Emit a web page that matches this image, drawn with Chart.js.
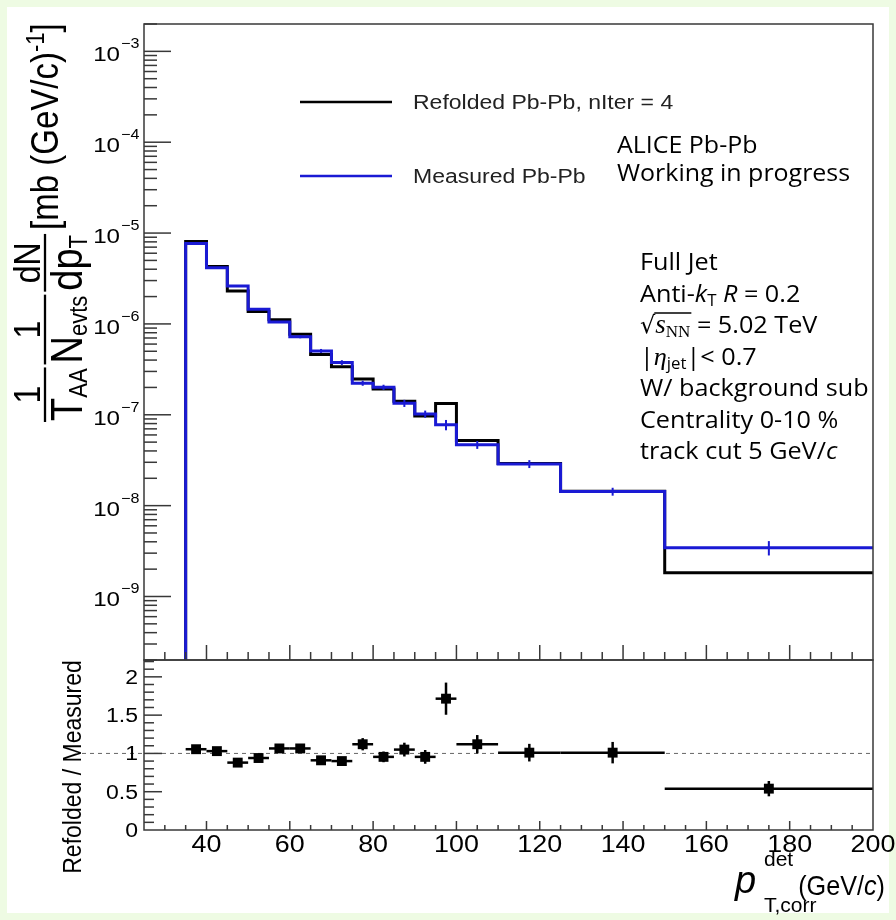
<!DOCTYPE html>
<html>
<head>
<meta charset="utf-8">
<script src="https://cdn.jsdelivr.net/npm/chart.js@4.4.1/dist/chart.umd.min.js"></script>
<style>
html, body { margin: 0; padding: 0; background: #eefbe3; }
#wrap { position: relative; width: 896px; height: 920px; }
#paper { position: absolute; left: 7px; top: 7px; width: 882px; height: 906px; background: #fff; }
canvas { position: absolute; left: 0; top: 0; }
</style>
</head>
<body>
<div id="wrap">
  <div id="paper"></div>
  <canvas id="spec" width="896" height="920"></canvas>
  <canvas id="ratio" width="896" height="920"></canvas>
</div>
<script>
// bins in p_T (GeV/c)
const binEdges = [35, 40, 45, 50, 55, 60, 65, 70, 75, 80, 85, 90, 95, 100, 110, 125, 150, 200];
// measured Pb-Pb spectrum
const measured = [7.7e-6, 4.16e-6, 2.62e-6, 1.45e-6, 1.05e-6, 7.24e-7, 5.05e-7, 3.76e-7, 2.23e-7, 2.01e-7, 1.34e-7, 1.02e-7, 7.76e-8, 4.68e-8, 2.88e-8, 1.43e-8, 3.45e-9];
const measuredRelErr = [0.01, 0.01, 0.015, 0.02, 0.02, 0.04, 0.05, 0.06, 0.065, 0.065, 0.09, 0.09, 0.13, 0.1, 0.1, 0.1, 0.18];
// refolded, nIter = 4
const refolded = [8.1e-6, 4.28e-6, 2.31e-6, 1.37e-6, 1.11e-6, 7.7e-7, 4.6e-7, 3.38e-7, 2.48e-7, 1.92e-7, 1.41e-7, 9.7e-8, 1.33e-7, 5.22e-8, 2.9e-8, 1.44e-8, 1.83e-9];
// refolded / measured
const ratio = [1.055, 1.03, 0.88, 0.94, 1.065, 1.065, 0.91, 0.90, 1.12, 0.955, 1.05, 0.955, 1.715, 1.12, 1.01, 1.01, 0.54];
const ratioErr = [0.03, 0.03, 0.03, 0.035, 0.035, 0.04, 0.04, 0.045, 0.08, 0.07, 0.09, 0.09, 0.21, 0.12, 0.115, 0.14, 0.1];

const xTickValues = [40, 60, 80, 100, 120, 140, 160, 180, 200];
const xTickLabels = ['40', '60', '80', '100', '120', '140', '160', '180', '200'];
const logDecades = [-9, -8, -7, -6, -5, -4, -3];
const ratioTickValues = [0, 0.5, 1, 1.5, 2];
const ratioTickLabels = ['0', '0.5', '1', '1.5', '2'];

const blue = '#1a1ad4';
const axisCol = '#383838';
const H = "'Liberation Sans', Arial, sans-serif";
const C = "'Open Sans', Lato, sans-serif";
const SX = 1.15; // root text looks a bit stretched

function stepPoints(vals) {
    const pts = [{ x: binEdges[0], y: 1e-13 }];
    vals.forEach((v, i) => pts.push({ x: binEdges[i], y: v }));
    pts.push({ x: binEdges[binEdges.length - 1], y: vals[vals.length - 1] });
    return pts;
}

function drawRuns(ctx, list, x, y, o) {
    o = o || {};
    ctx.save();
    ctx.translate(x, y);
    if (o.rot) ctx.rotate(-Math.PI / 2);
    ctx.scale(o.sx || 1, o.sy || 1);
    let w = 0;
    list.forEach(r => { ctx.font = r.f; w += ctx.measureText(r.t).width; });
    let cx = o.align === 'right' ? -w : (o.align === 'center' ? -w / 2 : 0);
    ctx.textAlign = 'left';
    ctx.textBaseline = o.base || 'alphabetic';
    list.forEach(r => {
        ctx.font = r.f;
        ctx.fillStyle = r.c || '#000';
        ctx.fillText(r.t, cx, r.dy || 0);
        cx += ctx.measureText(r.t).width;
    });
    ctx.restore();
    return w * (o.sx || 1);
}

function line(ctx, x1, y1, x2, y2) {
    ctx.beginPath(); ctx.moveTo(x1, y1); ctx.lineTo(x2, y2); ctx.stroke();
}

function drawYTitle(ctx) {
    const S = 1.15;
    ctx.save();
    ctx.translate(0, 421);
    ctx.rotate(-Math.PI / 2);
    ctx.scale(1, S);
    ctx.fillStyle = '#000'; ctx.strokeStyle = '#000';
    ctx.textAlign = 'left'; ctx.textBaseline = 'alphabetic';
    const vDen = 82 / S, vNum = 40 / S, vBar = 45 / S;
    const dens = [['T', 'AA'], ['N', 'evts'], ['dp', 'T']];
    const nums = ['1', '1', 'dN'];
    let u = 0;
    dens.forEach((d, i) => {
        ctx.font = '38px ' + H; const w1 = ctx.measureText(d[0]).width;
        ctx.fillText(d[0], u, vDen);
        ctx.font = '22px ' + H; const w2 = ctx.measureText(d[1]).width;
        ctx.fillText(d[1], u + w1, vDen + 4);
        const w = w1 + w2;
        ctx.lineWidth = 2;
        line(ctx, u - 1, vBar, u + w + 1, vBar);
        ctx.font = '32px ' + H;
        const wn = ctx.measureText(nums[i]).width;
        ctx.fillText(nums[i], u + (w - wn) / 2, vNum);
        u += w + 5;
    });
    ctx.font = '33px ' + H;
    ctx.fillText('[mb (GeV/c)', u, 58 / S);
    u += ctx.measureText('[mb (GeV/c)').width;
    ctx.font = '22px ' + H;
    ctx.fillText('-1', u, 44 / S);
    u += ctx.measureText('-1').width;
    ctx.font = '33px ' + H;
    ctx.fillText(']', u, 58 / S);
    ctx.restore();
}

const specDecor = {
    id: 'specDecor',
    afterDatasetsDraw(chart) {
        const { ctx, scales: { x, y } } = chart;
        ctx.save();
        ctx.strokeStyle = blue; ctx.lineWidth = 2;
        measured.forEach((v, i) => {
            const xc = x.getPixelForValue((binEdges[i] + binEdges[i + 1]) / 2);
            line(ctx, xc, y.getPixelForValue(v * (1 + measuredRelErr[i])), xc, y.getPixelForValue(v * (1 - measuredRelErr[i])));
        });
        ctx.restore();
    },
    afterDraw(chart) {
        const { ctx, chartArea: a, scales: { x, y } } = chart;
        ctx.save();
        ctx.strokeStyle = axisCol; ctx.lineWidth = 1.5;
        ctx.strokeRect(a.left, a.top, a.right - a.left, a.bottom - a.top);
        // log ticks
        for (let n = -10; n <= -3; n++) {
            for (let k = 1; k <= 9; k++) {
                const v = Number(k + 'e' + n);
                if (v < y.min || v > y.max) continue;
                const py = y.getPixelForValue(v);
                line(ctx, a.left, py, a.left + (k === 1 ? 27 : 13), py);
            }
        }
        // x ticks on bottom of upper pad
        for (let v = 30; v < 200; v += 5) {
            const px = x.getPixelForValue(v);
            line(ctx, px, a.bottom, px, a.bottom - (v % 20 === 0 ? 15 : 8));
        }
        // y labels
        logDecades.forEach(n => {
            const py = y.getPixelForValue(Math.pow(10, n));
            drawRuns(ctx, [{ t: '10', f: '21px ' + H }], 120, py + 10, { sx: SX, align: 'right' });
            drawRuns(ctx, [{ t: '\u2212' + (-n), f: '14px ' + H }], 121, py - 3, { sx: SX });
        });
        // legend
        ctx.lineWidth = 2.5;
        ctx.strokeStyle = '#000'; line(ctx, 300, 102, 392, 102);
        ctx.strokeStyle = blue; line(ctx, 300, 176, 392, 176);
        drawRuns(ctx, [{ t: 'Refolded Pb-Pb, nIter = 4', f: '20px ' + H, c: '#222' }], 413, 109, { sx: SX });
        drawRuns(ctx, [{ t: 'Measured Pb-Pb', f: '20px ' + H, c: '#222' }], 413, 183, { sx: SX });
        // ALICE label
        drawRuns(ctx, [{ t: 'ALICE Pb-Pb', f: '24px ' + C }], 617, 153, { sx: 1.04 });
        drawRuns(ctx, [{ t: 'Working in progress', f: '24px ' + C }], 617, 181, { sx: 1.04 });
        // info block
        const lx = 640, sp = 31.5, b0 = 270, ox = { sx: 1.05 };
        const f = '24px ' + C, fi = 'italic 24px ' + C, fs = '16px ' + C;
        drawRuns(ctx, [{ t: 'Full Jet', f: f }], lx, b0, ox);
        drawRuns(ctx, [{ t: 'Anti-', f: f }, { t: 'k', f: fi }, { t: 'T', f: fs, dy: 4 }, { t: ' ', f: f }, { t: 'R', f: fi }, { t: ' = 0.2', f: f }], lx, b0 + sp, ox);
        const rootW = drawRuns(ctx, [{ t: '\u221A', f: "24px 'DejaVu Sans'" }], lx, b0 + 2 * sp);
        const sW = drawRuns(ctx, [{ t: 's', f: "italic 27px 'Liberation Serif'" }, { t: 'NN', f: "17px 'Liberation Serif'", dy: 4 }], lx + rootW, b0 + 2 * sp);
        ctx.strokeStyle = '#000'; ctx.lineWidth = 1.3;
        line(ctx, lx + rootW - 1, b0 + 2 * sp - 20, lx + rootW + sW + 1, b0 + 2 * sp - 20);
        drawRuns(ctx, [{ t: ' = 5.02 TeV', f: f }], lx + rootW + sW, b0 + 2 * sp, ox);
        drawRuns(ctx, [{ t: '|', f: f }, { t: '\u03B7', f: "italic 25px 'Liberation Serif'" }, { t: 'jet', f: fs, dy: 4 }, { t: '|< 0.7', f: f }], lx, b0 + 3 * sp, ox);
        drawRuns(ctx, [{ t: 'W/ background sub', f: f }], lx, b0 + 4 * sp, ox);
        drawRuns(ctx, [{ t: 'Centrality 0-10 %', f: f }], lx, b0 + 5 * sp, ox);
        drawRuns(ctx, [{ t: 'track cut 5 GeV/', f: f }, { t: 'c', f: fi }], lx, b0 + 6 * sp, ox);
        drawYTitle(ctx);
        ctx.restore();
    }
};

new Chart(document.getElementById('spec'), {
    type: 'line',
    data: {
        datasets: [
            { label: 'Measured Pb-Pb', data: stepPoints(measured), borderColor: blue, borderWidth: 3, stepped: 'before', pointRadius: 0, fill: false, order: 0, clip: 0 },
            { label: 'Refolded Pb-Pb, nIter = 4', data: stepPoints(refolded), borderColor: '#000', borderWidth: 3, stepped: 'before', pointRadius: 0, fill: false, order: 1, clip: 0 }
        ]
    },
    options: {
        responsive: false, animation: false, devicePixelRatio: 1,
        layout: { padding: { left: 144, top: 24, right: 23, bottom: 260 } },
        plugins: { legend: { display: false }, tooltip: { enabled: false } },
        scales: {
            x: { type: 'linear', min: 25, max: 200, display: false },
            y: { type: 'logarithmic', min: 2e-10, max: 2e-3, display: false }
        }
    },
    plugins: [specDecor]
});

const ratioDecor = {
    id: 'ratioDecor',
    beforeDatasetsDraw(chart) {
        const { ctx, chartArea: a, scales: { x, y } } = chart;
        ctx.save();
        ctx.strokeStyle = '#666'; ctx.lineWidth = 1; ctx.setLineDash([4, 4]);
        line(ctx, 82, y.getPixelForValue(1), a.right, y.getPixelForValue(1));
        ctx.setLineDash([]);
        ctx.strokeStyle = '#000'; ctx.lineWidth = 2.5;
        ratio.forEach((r, i) => {
            const py = y.getPixelForValue(r);
            const xc = x.getPixelForValue((binEdges[i] + binEdges[i + 1]) / 2);
            line(ctx, x.getPixelForValue(binEdges[i]), py, x.getPixelForValue(binEdges[i + 1]), py);
            line(ctx, xc, y.getPixelForValue(r + ratioErr[i]), xc, y.getPixelForValue(r - ratioErr[i]));
        });
        ctx.restore();
    },
    afterDraw(chart) {
        const { ctx, chartArea: a, scales: { x, y } } = chart;
        ctx.save();
        ctx.strokeStyle = axisCol; ctx.lineWidth = 1.5;
        ctx.strokeRect(a.left, a.top, a.right - a.left, a.bottom - a.top);
        for (let i = 1; i <= 22; i++) {
            const py = y.getPixelForValue(i / 10);
            line(ctx, a.left, py, a.left + (i % 5 === 0 ? 18 : 10), py);
        }
        for (let v = 30; v < 200; v += 5) {
            const px = x.getPixelForValue(v);
            line(ctx, px, a.bottom, px, a.bottom - (v % 20 === 0 ? 9 : 5));
        }
        ratioTickValues.forEach((v, i) => {
            drawRuns(ctx, [{ t: ratioTickLabels[i], f: '20px ' + H }], 138, y.getPixelForValue(v) + 7, { sx: SX, align: 'right' });
        });
        xTickValues.forEach((v, i) => {
            drawRuns(ctx, [{ t: xTickLabels[i], f: '24px ' + H }], x.getPixelForValue(v), 852, { sx: 1.12, align: 'center' });
        });
        // x title
        drawRuns(ctx, [{ t: 'p', f: 'italic 38px ' + H }], 735, 893);
        drawRuns(ctx, [{ t: 'det', f: '21px ' + H }], 764, 866);
        drawRuns(ctx, [{ t: 'T,corr', f: '21px ' + H }], 764, 912);
        drawRuns(ctx, [{ t: '(GeV/', f: '28px ' + H }, { t: 'c', f: 'italic 28px ' + H }, { t: ')', f: '28px ' + H }], 885, 895, { align: 'right', sx: 0.9 });
        // ratio title
        drawRuns(ctx, [{ t: 'Refolded / Measured', f: '23px ' + H }], 81, 767, { rot: true, sy: 1.1, align: 'center' });
        ctx.restore();
    }
};

new Chart(document.getElementById('ratio'), {
    type: 'scatter',
    data: {
        datasets: [{
            label: 'Refolded / Measured',
            data: ratio.map((r, i) => ({ x: (binEdges[i] + binEdges[i + 1]) / 2, y: r })),
            pointStyle: 'rect', pointRadius: 7, backgroundColor: '#000', borderColor: '#000', borderWidth: 0
        }]
    },
    options: {
        responsive: false, animation: false, devicePixelRatio: 1,
        layout: { padding: { left: 144, top: 660, right: 23, bottom: 90 } },
        plugins: { legend: { display: false }, tooltip: { enabled: false } },
        scales: {
            x: { type: 'linear', min: 25, max: 200, display: false },
            y: { type: 'linear', min: 0, max: 2.22, display: false }
        }
    },
    plugins: [ratioDecor]
});
</script>
</body>
</html>
